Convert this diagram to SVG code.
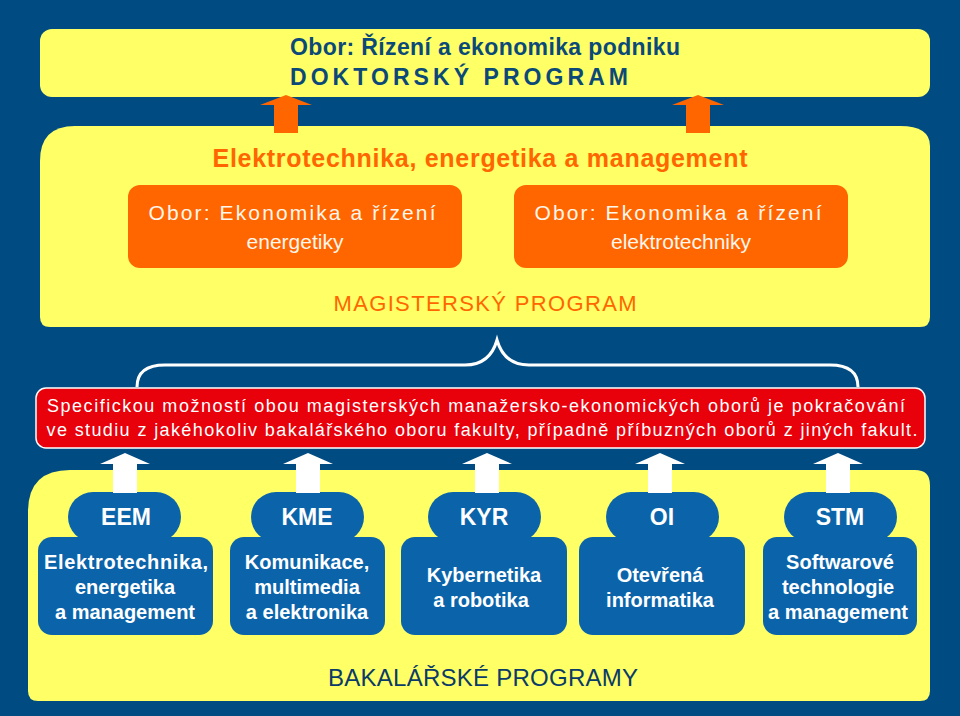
<svg xmlns="http://www.w3.org/2000/svg" width="960" height="716" viewBox="0 0 960 716">
<defs><style>
text{font-family:"Liberation Sans",Arial,sans-serif;text-anchor:middle}
.y{fill:#FFFF66}
.or{fill:#FF6600}
.bl{fill:#0B64AA}
.wt{fill:#FFF6EC;font-size:21px}
.wb{fill:#FFFFFF;font-size:20px;font-weight:bold}
.pl{fill:#FFFFFF;font-size:23px;font-weight:bold}
.wa{fill:#FFFFFF}
</style></defs>
<rect x="0" y="0" width="960" height="716" fill="#004C82"/>
<g id="doktorsky">
<rect x="40" y="29" width="890" height="68" rx="12" class="y"/>
<text x="485" y="55" font-size="23" font-weight="bold" fill="#0B4A78" textLength="390">Obor: Řízení a ekonomika podniku</text>
<text x="459" y="85" font-size="23" font-weight="bold" fill="#0B4A78" textLength="338">DOKTORSKÝ  PROGRAM</text>
</g>
<g id="magistersky">
<path d="M75,126 H900 Q930,126 930,146 V317 Q930,327 920,327 H50 Q40,327 40,317 V161 Q40,126 75,126 Z" class="y"/>
<text x="480" y="167" font-size="25" font-weight="bold" fill="#FF6600" textLength="535">Elektrotechnika, energetika a management</text>
<text x="485" y="311" font-size="22" fill="#FF6600" textLength="303">MAGISTERSKÝ PROGRAM</text>
</g>
<g id="ekon-energetiky">
<rect x="128" y="185" width="334" height="83" rx="12" class="or"/>
<text x="292" y="220" class="wt" textLength="287">Obor: Ekonomika a řízení</text>
<text x="295" y="249" class="wt">energetiky</text>
</g>
<g id="ekon-elektrotechniky">
<rect x="514" y="185" width="334" height="83" rx="12" class="or"/>
<text x="678" y="220" class="wt" textLength="287">Obor: Ekonomika a řízení</text>
<text x="681" y="249" class="wt">elektrotechniky</text>
</g>
<g id="specificka">
<rect x="36" y="388" width="889" height="60" rx="10" fill="#E8000B" stroke="#FFFFFF" stroke-width="1.5"/>
<text x="476" y="412" font-size="18" fill="#FFFFFF" textLength="858">Specifickou možností obou magisterských manažersko-ekonomických oborů je pokračování</text>
<text x="482" y="436" font-size="18" fill="#FFFFFF" textLength="871">ve studiu z jakéhokoliv bakalářského oboru fakulty, případně příbuzných oborů z jiných fakult.</text>
</g>
<g id="bakalarske">
<path d="M70,470 H915 Q930,470 930,485 V691 Q930,701 920,701 H38 Q28,701 28,691 V512 Q28,470 70,470 Z" class="y"/>
<text x="483" y="686" font-size="24" fill="#0B3B68" textLength="310">BAKALÁŘSKÉ PROGRAMY</text>
</g>
<g id="eem">
<rect x="68" y="492" width="113" height="50" rx="25" class="bl"/>
<rect x="38" y="537" width="175" height="98" rx="14" class="bl"/>
<text x="126" y="525" class="pl">EEM</text>
<text x="126" y="569" class="wb" textLength="164">Elektrotechnika,</text>
<text x="125" y="594" class="wb">energetika</text>
<text x="125" y="619" class="wb">a management</text>
</g>
<g id="kme">
<rect x="251" y="492" width="113" height="50" rx="25" class="bl"/>
<rect x="230" y="537" width="155" height="98" rx="14" class="bl"/>
<text x="307" y="525" class="pl">KME</text>
<text x="307" y="569" class="wb">Komunikace,</text>
<text x="307" y="594" class="wb">multimedia</text>
<text x="307" y="619" class="wb">a elektronika</text>
</g>
<g id="kyr">
<rect x="428" y="492" width="113" height="50" rx="25" class="bl"/>
<rect x="401" y="537" width="166" height="98" rx="14" class="bl"/>
<text x="484" y="525" class="pl">KYR</text>
<text x="484" y="582" class="wb">Kybernetika</text>
<text x="481" y="607" class="wb">a robotika</text>
</g>
<g id="oi">
<rect x="606" y="492" width="113" height="50" rx="25" class="bl"/>
<rect x="579" y="537" width="166" height="98" rx="14" class="bl"/>
<text x="662" y="525" class="pl">OI</text>
<text x="660" y="582" class="wb">Otevřená</text>
<text x="660" y="607" class="wb">informatika</text>
</g>
<g id="stm">
<rect x="784" y="492" width="113" height="50" rx="25" class="bl"/>
<rect x="763" y="537" width="154" height="98" rx="14" class="bl"/>
<text x="840" y="525" class="pl">STM</text>
<text x="840" y="569" class="wb">Softwarové</text>
<text x="838" y="594" class="wb">technologie</text>
<text x="838" y="619" class="wb">a management</text>
</g>
<g id="connectors">
<polygon points="286,95 312,105 298,105 298,133 274,133 274,105 260,105" fill="#FF6600"/>
<polygon points="698,95 724,105 710,105 710,133 686,133 686,105 672,105" fill="#FF6600"/>
<path d="M137,387 Q137,365 165,365 H465 Q490,365 497,340 Q504,365 529,365 H830 Q858,365 858,387" fill="none" stroke="#FFFFFF" stroke-width="3"/>
<polygon points="125,453 150,464 137,464 137,493 113,493 113,464 100,464" class="wa"/>
<polygon points="308,453 333,464 320,464 320,493 296,493 296,464 283,464" class="wa"/>
<polygon points="487,453 512,464 499,464 499,493 475,493 475,464 462,464" class="wa"/>
<polygon points="660,453 685,464 672,464 672,493 648,493 648,464 635,464" class="wa"/>
<polygon points="838,453 863,464 850,464 850,493 826,493 826,464 813,464" class="wa"/>
</g>
</svg>
